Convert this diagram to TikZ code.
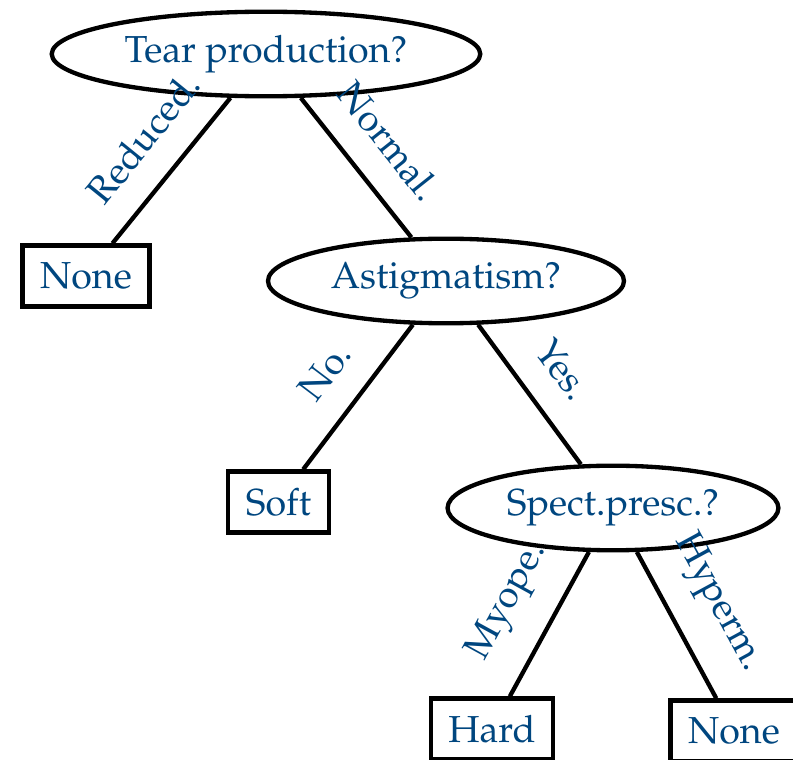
\documentclass[tikz,border=0pt]{standalone}
\usepackage[T1]{fontenc}
\usepackage{mathpazo}
\usepackage{xcolor}
\definecolor{Col1}{RGB}{0,70,127}
\usepackage{tikz}
\usetikzlibrary{shapes}
\tikzstyle{Question}=[ellipse,draw=black,line width=1.15pt,inner sep=1pt,
text=Col1,minimum height=22.5pt]
\tikzstyle{Leaf}=[rectangle,draw=black,line width=1.15pt,inner xsep=4.7pt,
inner ysep=2pt,text=Col1,minimum height=16.2pt]
\tikzstyle{Edge}=[draw=black,line width=1.15pt]
\tikzstyle{EdgeLabel}=[sloped,above=4pt,text=Col1,inner sep=3pt]

\begin{document}
\begin{tikzpicture}[x=0.266pt,y=-0.266pt]
        \useasboundingbox(0,0)rectangle(793,760);
        \node[Question,minimum width=114pt](0)at(266,54){Tear production?};
        \node[Leaf](1)at(86,276){None};
        \node[Question,minimum width=94.7pt](2)at(446,281){Astigmatism?};
        \node[Leaf](3)at(278.5,502){Soft};
        \node[Question,minimum width=88pt](4)at(613,508){Spect.presc.?};
        \node[Leaf](5)at(492,729){Hard};
        \node[Leaf](6)at(734,731){None};
        \draw[Edge](0)--node[EdgeLabel,pos=.46](e1){Reduced.}(1);
        \draw[Edge](0)--node[EdgeLabel](e2){Normal.}(2);
        \draw[Edge](2)--node[EdgeLabel](e3){No.}(3);
        \draw[Edge](2)--node[EdgeLabel](e4){Yes.}(4);
        \draw[Edge](4)--node[EdgeLabel](e5){Myope.}(5);
        \draw[Edge](4)--node[EdgeLabel](e6){Hyperm.}(6);
    \end{tikzpicture}
\end{document}
